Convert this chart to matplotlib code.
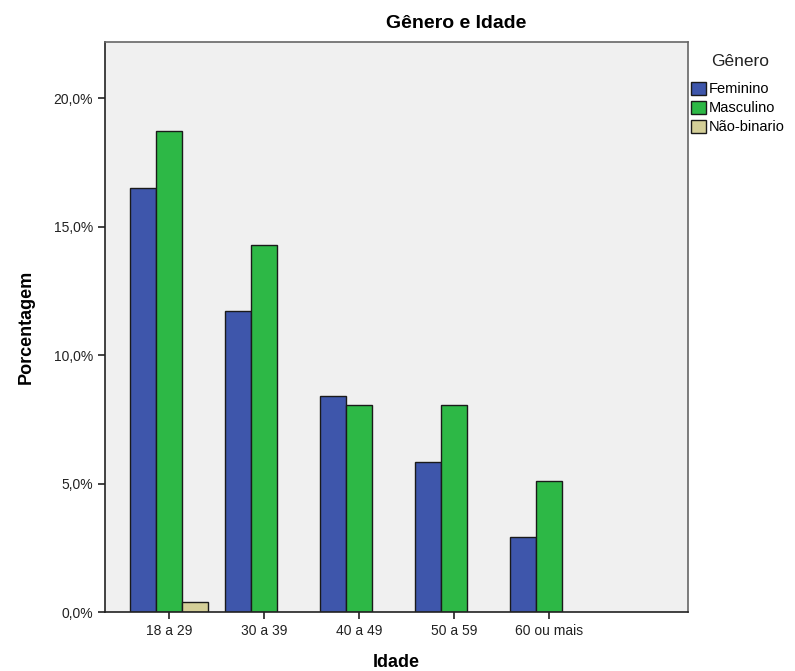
import matplotlib
matplotlib.use("Agg")
import matplotlib.pyplot as plt
import numpy as np
from matplotlib.patches import Patch
from matplotlib.ticker import FuncFormatter

plt.rcParams["font.family"] = ["Liberation Sans", "DejaVu Sans"]

idades = ["18 a 29", "30 a 39", "40 a 49", "50 a 59", "60 ou mais"]
feminino = [16.5, 11.7, 8.4, 5.85, 2.9]
masculino = [18.7, 14.3, 8.05, 8.05, 5.1]
nao_binario = [0.37, 0.0, 0.0, 0.0, 0.0]

series = [
    ("Feminino", feminino, "#3E56AB"),
    ("Masculino", masculino, "#2DB846"),
    ("Não-binario", nao_binario, "#D4CF98"),
]

fig = plt.figure(figsize=(7.95, 6.71), dpi=100)
ax = fig.add_axes([105 / 795, 59 / 671, 583 / 795, 570 / 671])
ax.set_facecolor("#F0F0F0")

x = np.arange(len(idades))
width = 0.274
for i, (name, vals, color) in enumerate(series):
    vals = np.array(vals)
    mask = vals > 0
    ax.bar(x[mask] + (i - 1) * width, vals[mask], width=width, color=color,
           edgecolor="#1a1a1a", linewidth=1.0)

ax.set_xlim(-0.674, 5.46)
ax.set_ylim(0, 22.18)
ax.set_yticks([0, 5, 10, 15, 20])
ax.yaxis.set_major_formatter(FuncFormatter(lambda v, p: f"{v:.1f}%".replace(".", ",")))
ax.set_xticks(x)
ax.set_xticklabels(idades)
ax.tick_params(axis="both", direction="out", length=5, width=1.2, labelsize=10,
               labelcolor="#222222", color="#222222")

for side in ["left", "bottom"]:
    ax.spines[side].set_color("#222222")
    ax.spines[side].set_linewidth(1.2)
for side in ["top", "right"]:
    ax.spines[side].set_color("#666666")
    ax.spines[side].set_linewidth(1.2)

ax.set_ylabel("Porcentagem", fontsize=13, fontweight="bold", labelpad=14)
ax.set_xlabel("Idade", fontsize=13, fontweight="bold", labelpad=12)
fig.text(456 / 795, 1 - 24 / 671, "Gênero e Idade", ha="center", va="center",
         fontsize=14, fontweight="bold")

fig.text(711 / 795, 1 - 61 / 671, "Gênero", ha="left", va="center", fontsize=12.5,
         color="#222222")
handles = [Patch(facecolor=c, edgecolor="#1a1a1a", label=n) for n, _, c in series]
fig.legend(handles=handles, loc="upper left",
           bbox_to_anchor=(688 / 795, 1 - 79 / 671), frameon=False,
           fontsize=10.5, handlelength=1.0, handleheight=1.0,
           handletextpad=0.2, labelspacing=0.3, borderaxespad=0.0, borderpad=0.2)

fig.savefig("out.png", dpi=100)
